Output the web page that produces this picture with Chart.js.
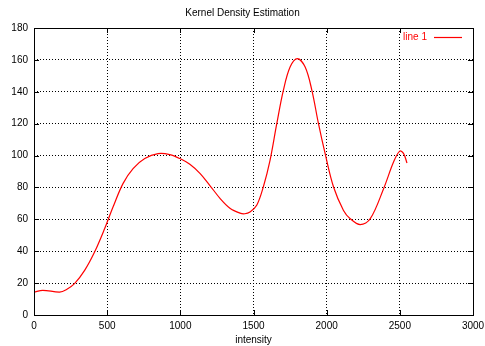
<!DOCTYPE html>
<html>
<head>
<meta charset="utf-8">
<script src="https://cdn.jsdelivr.net/npm/chart.js@4"></script>
<style>
  body { margin: 0; background: #fff; }
  #wrap { width: 485px; height: 346px; position: relative; }
</style>
</head>
<body>
<div id="wrap"><canvas id="kde"></canvas></div>
<script>
// values
var intensity = [0, 60, 175, 220, 277, 346, 414, 483, 540, 608, 677, 757, 848, 928, 997, 1065, 1134, 1202, 1271, 1339, 1408, 1440, 1476, 1522, 1567, 1613, 1659, 1704, 1750, 1800, 1853, 1899, 1944, 1990, 2047, 2115, 2161, 2229, 2298, 2389, 2457, 2499, 2526, 2549];
var density   = [14.4, 15.5, 14.4, 15.9, 19.7, 28, 39.5, 54.2, 67.7, 82.4, 91.8, 98.1, 101.2, 100.6, 98.1, 94.5, 88.8, 81.2, 73.2, 67, 63.9, 63.5, 64.6, 68.8, 80.3, 97, 120, 140.9, 155.5, 160.8, 155.5, 140.9, 120, 101, 80.3, 65.6, 60.4, 56.7, 60.4, 79.2, 95.9, 102.8, 101.2, 95.3];
var xTicks = [0, 500, 1000, 1500, 2000, 2500, 3000];
var yTicks = [0, 20, 40, 60, 80, 100, 120, 140, 160, 180];

var FONT = "'Liberation Sans', Arial, Helvetica, sans-serif";
Chart.defaults.font.family = FONT;
Chart.defaults.font.size = 10;
Chart.defaults.color = '#000';

var points = intensity.map(function (x, i) { return { x: x, y: density[i] }; });

// gnuplot style: small inward ticks on all four sides, the frame and the key
var gnuplotBits = {
  id: 'gnuplotBits',
  afterDatasetsDraw: function (chart) {
    var ctx = chart.ctx, a = chart.chartArea;
    var xs = chart.scales.x, ys = chart.scales.y;
    ctx.save();
    ctx.strokeStyle = '#000';
    ctx.lineWidth = 1;
    ctx.setLineDash([]);
    ctx.beginPath();
    xTicks.forEach(function (t) {
      var px = Math.round(xs.getPixelForValue(t)) + 0.5;
      ctx.moveTo(px, a.bottom); ctx.lineTo(px, a.bottom - 5);
      ctx.moveTo(px, a.top); ctx.lineTo(px, a.top + 5);
    });
    yTicks.forEach(function (t) {
      var py = Math.round(ys.getPixelForValue(t)) + 0.5;
      ctx.moveTo(a.left, py); ctx.lineTo(a.left + 5, py);
      ctx.moveTo(a.right, py); ctx.lineTo(a.right - 5, py);
    });
    ctx.stroke();
    ctx.strokeRect(Math.round(a.left) + 0.5, Math.round(a.top) + 0.5,
                   Math.round(a.right - a.left), Math.round(a.bottom - a.top));

    // key
    var ky = Math.round(a.top + 9) + 0.5;
    ctx.fillStyle = '#ff0000';
    ctx.font = '10px ' + FONT;
    ctx.textAlign = 'right';
    ctx.textBaseline = 'middle';
    ctx.fillText(chart.data.datasets[0].label, a.right - 46, ky);
    ctx.strokeStyle = '#ff0000';
    ctx.lineWidth = 1.2;
    ctx.beginPath();
    ctx.moveTo(a.right - 39, ky);
    ctx.lineTo(a.right - 11, ky);
    ctx.stroke();
    ctx.restore();
  }
};

new Chart(document.getElementById('kde'), {
  type: 'line',
  data: {
    datasets: [{
      label: 'line 1',
      data: points,
      borderColor: '#ff0000',
      borderWidth: 1.2,
      pointRadius: 0,
      tension: 0.35,
      fill: false
    }]
  },
  options: {
    responsive: true,
    maintainAspectRatio: false,
    animation: false,
    layout: { padding: { right: 0, left: 0, bottom: 0 } },
    plugins: {
      legend: { display: false },
      tooltip: { enabled: false },
      title: {
        display: true,
        text: 'Kernel Density Estimation',
        color: '#000',
        font: { size: 10, weight: 'normal' },
        padding: { top: 7, bottom: 9 }
      }
    },
    scales: {
      x: {
        type: 'linear',
        min: 0, max: 3000,
        afterBuildTicks: function (s) { s.ticks = xTicks.map(function (v) { return { value: v }; }); },
        afterFit: function (s) { s.height = 31; s.paddingRight = 12; },
        grid: { color: '#000', lineWidth: 1, drawTicks: false },
        border: { display: false, dash: [1, 2] },
        ticks: { padding: 5, maxRotation: 0, color: '#000', callback: function (v) { return String(v); } },
        title: { display: true, text: 'intensity', color: '#000', padding: { top: 2, bottom: 0 } }
      },
      y: {
        min: 0, max: 180,
        afterBuildTicks: function (s) { s.ticks = yTicks.map(function (v) { return { value: v }; }); },
        afterFit: function (s) { s.width = 34; },
        grid: { color: '#000', lineWidth: 1, drawTicks: false },
        border: { display: false, dash: [1, 2] },
        ticks: { padding: 6, color: '#000', callback: function (v) { return String(v); } }
      }
    }
  },
  plugins: [gnuplotBits]
});
</script>
</body>
</html>
